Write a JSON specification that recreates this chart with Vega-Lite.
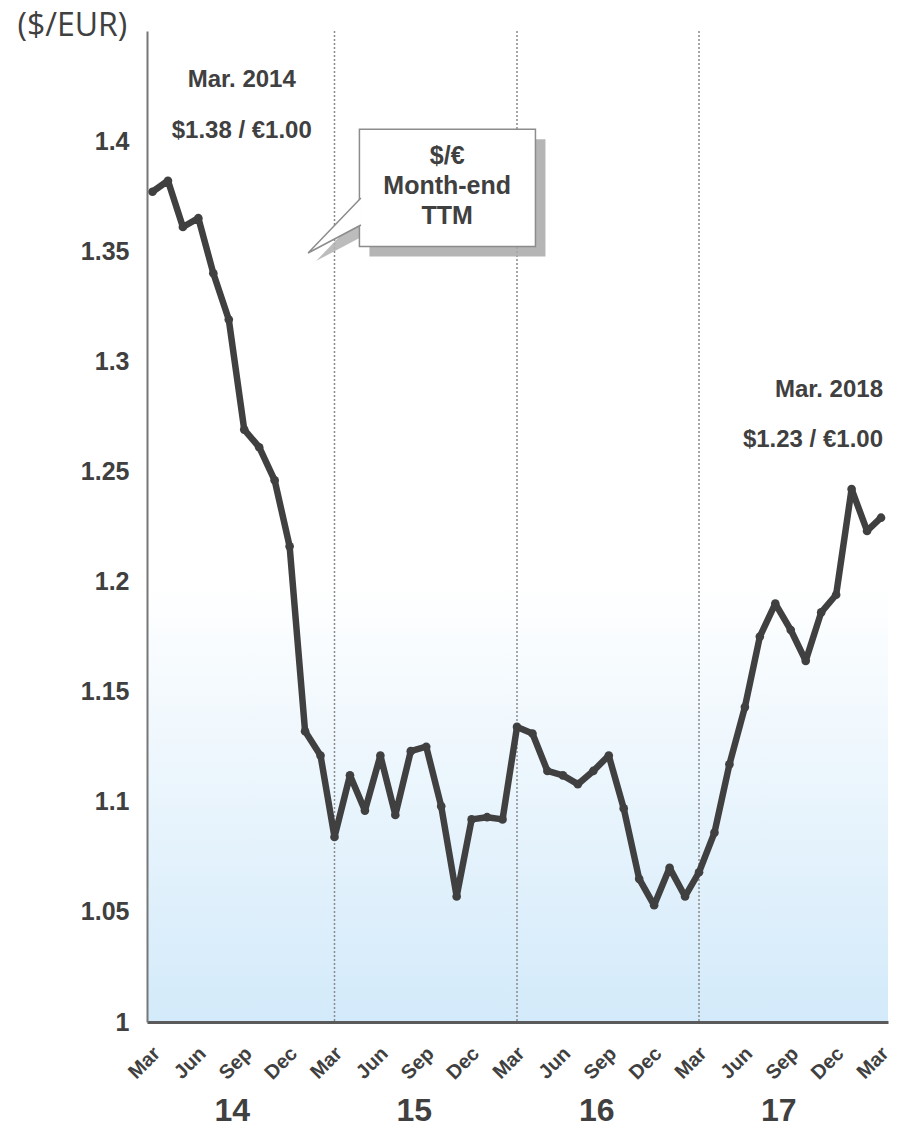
{
  "$schema": "https://vega.github.io/schema/vega-lite/v6.json",
  "width": 741,
  "height": 991,
  "autosize": "none",
  "padding": {"left": 147, "top": 31, "right": 11, "bottom": 119},
  "background": "white",
  "config": {
    "view": {"stroke": null},
    "font": "Liberation Sans"
  },
  "datasets": {
    "fx": [
      {"date": "2014-03-01", "rate": 1.377}, {"date": "2014-04-01", "rate": 1.382}, {"date": "2014-05-01", "rate": 1.361},
      {"date": "2014-06-01", "rate": 1.365}, {"date": "2014-07-01", "rate": 1.340}, {"date": "2014-08-01", "rate": 1.319},
      {"date": "2014-09-01", "rate": 1.269}, {"date": "2014-10-01", "rate": 1.261}, {"date": "2014-11-01", "rate": 1.246},
      {"date": "2014-12-01", "rate": 1.216}, {"date": "2015-01-01", "rate": 1.132}, {"date": "2015-02-01", "rate": 1.121},
      {"date": "2015-03-01", "rate": 1.084}, {"date": "2015-04-01", "rate": 1.112}, {"date": "2015-05-01", "rate": 1.096},
      {"date": "2015-06-01", "rate": 1.121}, {"date": "2015-07-01", "rate": 1.094}, {"date": "2015-08-01", "rate": 1.123},
      {"date": "2015-09-01", "rate": 1.125}, {"date": "2015-10-01", "rate": 1.098}, {"date": "2015-11-01", "rate": 1.057},
      {"date": "2015-12-01", "rate": 1.092}, {"date": "2016-01-01", "rate": 1.093}, {"date": "2016-02-01", "rate": 1.092},
      {"date": "2016-03-01", "rate": 1.134}, {"date": "2016-04-01", "rate": 1.131}, {"date": "2016-05-01", "rate": 1.114},
      {"date": "2016-06-01", "rate": 1.112}, {"date": "2016-07-01", "rate": 1.108}, {"date": "2016-08-01", "rate": 1.114},
      {"date": "2016-09-01", "rate": 1.121}, {"date": "2016-10-01", "rate": 1.097}, {"date": "2016-11-01", "rate": 1.065},
      {"date": "2016-12-01", "rate": 1.053}, {"date": "2017-01-01", "rate": 1.070}, {"date": "2017-02-01", "rate": 1.057},
      {"date": "2017-03-01", "rate": 1.068}, {"date": "2017-04-01", "rate": 1.086}, {"date": "2017-05-01", "rate": 1.117},
      {"date": "2017-06-01", "rate": 1.143}, {"date": "2017-07-01", "rate": 1.175}, {"date": "2017-08-01", "rate": 1.190},
      {"date": "2017-09-01", "rate": 1.178}, {"date": "2017-10-01", "rate": 1.164}, {"date": "2017-11-01", "rate": 1.186},
      {"date": "2017-12-01", "rate": 1.194}, {"date": "2018-01-01", "rate": 1.242}, {"date": "2018-02-01", "rate": 1.223},
      {"date": "2018-03-01", "rate": 1.229}
    ],
    "breaks": [{"date": "2015-03-01"}, {"date": "2016-03-01"}, {"date": "2017-03-01"}],
    "notesCenter": [
      {"date": "2014-08-27", "rate": 1.4278, "label": "Mar. 2014"},
      {"date": "2014-08-27", "rate": 1.4046, "label": "$1.38 / €1.00"}
    ],
    "calloutText": [
      {"date": "2015-10-13", "rate": 1.3933, "label": "$/€"},
      {"date": "2015-10-13", "rate": 1.3797, "label": "Month-end"},
      {"date": "2015-10-13", "rate": 1.3660, "label": "TTM"}
    ],
    "notesRight": [
      {"date": "2018-03-05", "rate": 1.2870, "label": "Mar. 2018"},
      {"date": "2018-03-05", "rate": 1.2643, "label": "$1.23 / €1.00"}
    ],
    "box": [{"start": "2015-04-20", "end": "2016-04-07", "top": 1.4054, "bottom": 1.3521}],
    "pointer": [
      {"seq": 1, "date": "2015-04-23", "rate": 1.3742},
      {"seq": 2, "date": "2015-01-07", "rate": 1.3492},
      {"seq": 3, "date": "2015-04-23", "rate": 1.3619}
    ]
  },
  "resolve": {"axis": {"x": "independent", "y": "independent"}},
  "layer": [
    {
      "data": {"values": [{}]},
      "mark": {
        "type": "rect",
        "fill": {
          "gradient": "linear", "x1": 0, "y1": 0, "x2": 0, "y2": 1,
          "stops": [{"offset": 0, "color": "#ffffff"}, {"offset": 1, "color": "#d3eafa"}]
        }
      },
      "encoding": {
        "y": {"datum": 1.2, "type": "quantitative", "scale": {"domain": [1, 1.45], "nice": false, "zero": false}, "axis": null},
        "y2": {"datum": 1}
      }
    },
    {
      "data": {"name": "breaks"},
      "mark": {"type": "rule", "color": "#8a8a8a", "strokeWidth": 1.5, "strokeDash": [2, 2]},
      "encoding": {
        "x": {
          "field": "date", "type": "temporal",
          "scale": {"type": "utc", "domain": ["2014-02-18", "2018-03-15"]},
          "axis": {
            "orient": "bottom",
            "values": [
              {"year": 2014, "month": 8, "date": 7, "utc": true},
              {"year": 2015, "month": 8, "date": 7, "utc": true},
              {"year": 2016, "month": 8, "date": 7, "utc": true},
              {"year": 2017, "month": 8, "date": 7, "utc": true}
            ],
            "labelExpr": "utcFormat(datum.value, '%y')",
            "title": null, "domain": false, "ticks": false, "grid": false,
            "offset": 73, "labelFontSize": 32, "labelFontWeight": "bold",
            "labelColor": "#404040", "labelFont": "Liberation Sans",
            "labelAngle": 0, "labelOverlap": false, "labelPadding": 0
          }
        }
      }
    },
    {
      "data": {"name": "fx"},
      "mark": {
        "type": "line", "color": "#404040", "strokeWidth": 6.5, "strokeJoin": "round",
        "point": {"filled": true, "size": 75, "color": "#404040"}
      },
      "encoding": {
        "x": {
          "field": "date", "type": "temporal",
          "scale": {"type": "utc", "domain": ["2014-02-18", "2018-03-15"]},
          "axis": {
            "orient": "bottom", "zindex": 1,
            "values": [
              {"year": 2014, "month": 3, "date": 1, "utc": true}, {"year": 2014, "month": 6, "date": 1, "utc": true},
              {"year": 2014, "month": 9, "date": 1, "utc": true}, {"year": 2014, "month": 12, "date": 1, "utc": true},
              {"year": 2015, "month": 3, "date": 1, "utc": true}, {"year": 2015, "month": 6, "date": 1, "utc": true},
              {"year": 2015, "month": 9, "date": 1, "utc": true}, {"year": 2015, "month": 12, "date": 1, "utc": true},
              {"year": 2016, "month": 3, "date": 1, "utc": true}, {"year": 2016, "month": 6, "date": 1, "utc": true},
              {"year": 2016, "month": 9, "date": 1, "utc": true}, {"year": 2016, "month": 12, "date": 1, "utc": true},
              {"year": 2017, "month": 3, "date": 1, "utc": true}, {"year": 2017, "month": 6, "date": 1, "utc": true},
              {"year": 2017, "month": 9, "date": 1, "utc": true}, {"year": 2017, "month": 12, "date": 1, "utc": true},
              {"year": 2018, "month": 3, "date": 1, "utc": true}
            ],
            "labelExpr": "utcFormat(datum.value, '%b')",
            "title": null, "ticks": false, "grid": false,
            "domainColor": "#5a5a5a", "domainWidth": 3,
            "labelAngle": -45, "labelFontSize": 20, "labelFontWeight": "bold",
            "labelColor": "#404040", "labelFont": "Liberation Sans",
            "labelPadding": 21, "labelOffset": -3, "labelOverlap": false, "labelBound": false
          }
        },
        "y": {
          "field": "rate", "type": "quantitative",
          "scale": {"domain": [1, 1.45], "nice": false, "zero": false},
          "axis": {
            "orient": "left", "zindex": 1,
            "values": [1, 1.05, 1.1, 1.15, 1.2, 1.25, 1.3, 1.35, 1.4],
            "format": ".2~f", "ticks": false, "grid": false,
            "domainColor": "#777777", "domainWidth": 2,
            "labelFontSize": 25, "labelFontWeight": "bold", "labelColor": "#404040",
            "labelFont": "Liberation Sans", "labelPadding": 18,
            "title": "($/EUR)", "titleAngle": 0, "titleAlign": "left", "titleBaseline": "middle",
            "titleX": -130, "titleY": -6, "titleFont": "Open Sans", "titleFontWeight": "normal",
            "titleFontSize": 32, "titleColor": "#404040"
          }
        }
      }
    },
    {
      "data": {"name": "box"},
      "mark": {"type": "rect", "fill": "#a8a8a8", "opacity": 0.85, "xOffset": 10, "x2Offset": 10, "yOffset": 10, "y2Offset": 10},
      "encoding": {
        "x": {"field": "start", "type": "temporal", "scale": {"type": "utc", "domain": ["2014-02-18", "2018-03-15"]}, "axis": null},
        "x2": {"field": "end"},
        "y": {"field": "top", "type": "quantitative", "axis": null},
        "y2": {"field": "bottom"}
      }
    },
    {
      "data": {"name": "pointer"},
      "mark": {"type": "line", "fill": "#b0b0b0", "stroke": null, "opacity": 0.85, "xOffset": 8, "yOffset": 8},
      "encoding": {
        "x": {"field": "date", "type": "temporal", "scale": {"type": "utc", "domain": ["2014-02-18", "2018-03-15"]}, "axis": null},
        "y": {"field": "rate", "type": "quantitative", "axis": null},
        "order": {"field": "seq"}
      }
    },
    {
      "data": {"name": "box"},
      "mark": {"type": "rect", "fill": "white", "stroke": "#8c8c8c", "strokeWidth": 1.5},
      "encoding": {
        "x": {"field": "start", "type": "temporal", "scale": {"type": "utc", "domain": ["2014-02-18", "2018-03-15"]}, "axis": null},
        "x2": {"field": "end"},
        "y": {"field": "top", "type": "quantitative", "axis": null},
        "y2": {"field": "bottom"}
      }
    },
    {
      "data": {"name": "pointer"},
      "mark": {"type": "line", "fill": "white", "stroke": "#8c8c8c", "strokeWidth": 1.5},
      "encoding": {
        "x": {"field": "date", "type": "temporal", "scale": {"type": "utc", "domain": ["2014-02-18", "2018-03-15"]}, "axis": null},
        "y": {"field": "rate", "type": "quantitative", "axis": null},
        "order": {"field": "seq"}
      }
    },
    {
      "data": {"name": "notesCenter"},
      "mark": {"type": "text", "align": "center", "baseline": "middle", "font": "Liberation Sans", "fontWeight": "bold", "fontSize": 24, "color": "#404040"},
      "encoding": {
        "x": {"field": "date", "type": "temporal", "scale": {"type": "utc", "domain": ["2014-02-18", "2018-03-15"]}, "axis": null},
        "y": {"field": "rate", "type": "quantitative", "axis": null},
        "text": {"field": "label"}
      }
    },
    {
      "data": {"name": "calloutText"},
      "mark": {"type": "text", "align": "center", "baseline": "middle", "font": "Liberation Sans", "fontWeight": "bold", "fontSize": 25, "color": "#404040"},
      "encoding": {
        "x": {"field": "date", "type": "temporal", "scale": {"type": "utc", "domain": ["2014-02-18", "2018-03-15"]}, "axis": null},
        "y": {"field": "rate", "type": "quantitative", "axis": null},
        "text": {"field": "label"}
      }
    },
    {
      "data": {"name": "notesRight"},
      "mark": {"type": "text", "align": "right", "baseline": "middle", "font": "Liberation Sans", "fontWeight": "bold", "fontSize": 24, "color": "#404040"},
      "encoding": {
        "x": {"field": "date", "type": "temporal", "scale": {"type": "utc", "domain": ["2014-02-18", "2018-03-15"]}, "axis": null},
        "y": {"field": "rate", "type": "quantitative", "axis": null},
        "text": {"field": "label"}
      }
    }
  ]
}
